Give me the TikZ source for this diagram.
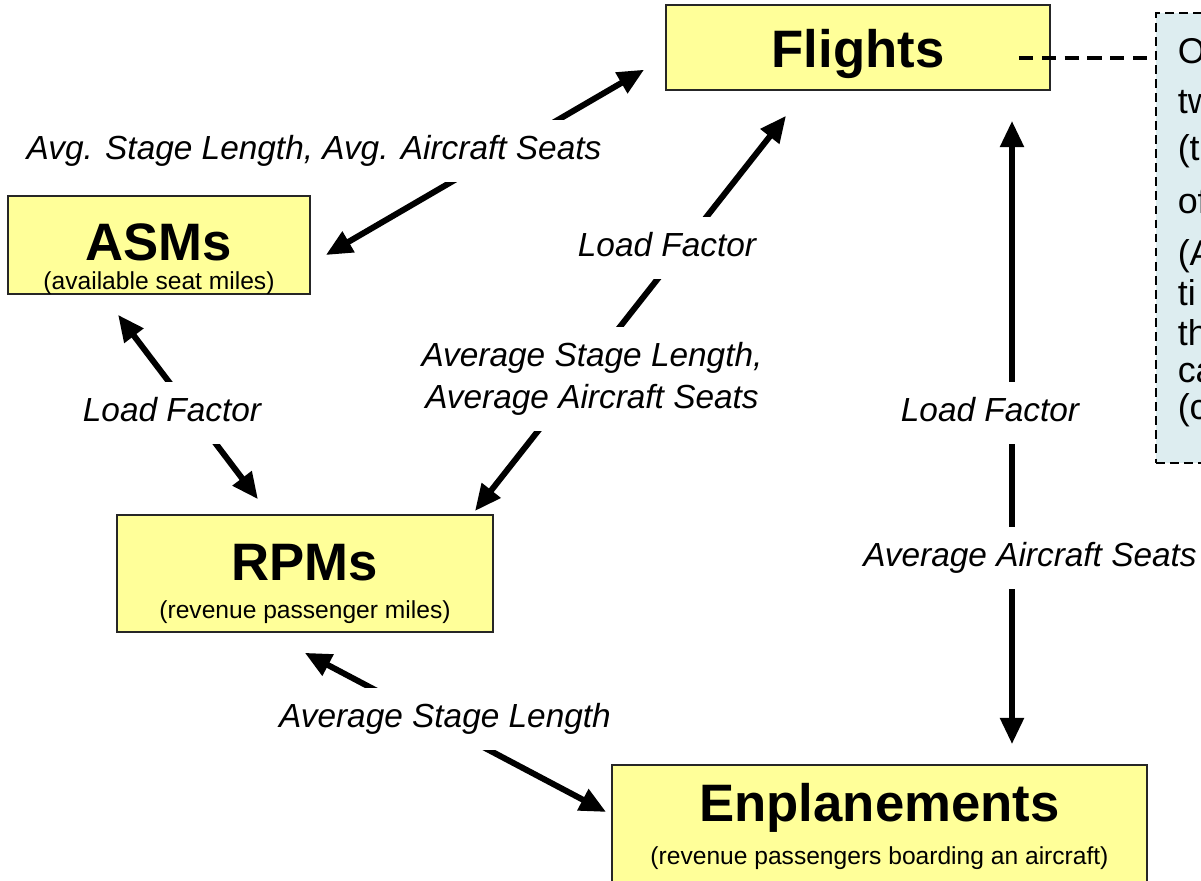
\documentclass[tikz,border=0pt]{standalone}
\usepackage{fontspec}
\setmainfont{Liberation Sans}
\usetikzlibrary{calc}
\usetikzlibrary{arrows.meta,positioning}
\definecolor{boxyellow}{RGB}{255,255,153}
\definecolor{noteblue}{RGB}{221,237,240}
\newcommand{\ttl}[2][0pt]{{\fontsize{30}{30}\selectfont\bfseries\rule{0pt}{#1}#2}}
\newcommand{\subttl}[1]{{\fontsize{14}{17}\selectfont #1}}
\tikzset{
  metric/.style={draw=black!85,line width=1.1pt,fill=boxyellow,align=center,inner sep=0pt},
  link/.style={line width=3.4pt,>={Triangle[length=15pt,width=13pt]},<->},
  lbl/.style={fill=white,inner xsep=3pt,inner ysep=6pt,align=center,
    font=\fontsize{19}{23.8}\selectfont\itshape},
  notebox/.style={draw,line width=0.9pt,dash pattern=on 5pt off 3pt,fill=noteblue,
    minimum height=9cm,text width=9cm,align=left,inner xsep=0.44cm,
    font=\fontsize{20.4}{21}\selectfont},
  noteline/.style={line width=2pt,dash pattern=on 8pt off 5pt}
}

\begin{document}
\begin{tikzpicture}[x=0.02cm,y=-0.02cm]
    \useasboundingbox (0,0) rectangle (1201,880);
    \node[metric,minimum width=7.68cm,minimum height=1.70cm] (flights) at (858,47.5) {\ttl[28.7pt]{Flights}};
    \node[metric,minimum width=6.04cm,minimum height=1.88cm] (asms) at (159,245) {\ttl[37pt]{ASMs}\\[4pt]\subttl{(available seat miles)}};
    \node[metric,minimum width=7.52cm,minimum height=2.34cm] (rpms) at (305,573.5) {\ttl[32.4pt]{RPMs}\\[10pt]\subttl{(revenue passenger miles)}};
    \node[metric,minimum width=10.70cm,minimum height=2.46cm] (enpl) at (879.5,826.5) {\ttl{Enplanements}\\[7pt]\subttl{(revenue passengers boarding an aircraft)}};
    \node[notebox,anchor=north west] (note) at (1155,12) {O\\[7.4pt]tw\\[5.7pt](t\\[9.1pt]of\\[9.1pt](A\\[1.7pt]ti\\[1.7pt]th\\ca\\(c\rule[-10pt]{0pt}{10pt}};

    \coordinate (dashstart) at ($(flights.east)+(-32,10.5)$);
    \draw[noteline] (dashstart) -- (dashstart -| note.west);

    \draw[link,shorten <=9.8pt,shorten >=13.8pt] ($(asms.east)+(0,18.7)$) -- ($(flights.west)+(0,10)$);
    \draw[link,shorten <=2.2pt,shorten >=18pt] ($(rpms.north)+(167.6,0)$) -- ($(flights.south)+(-52.4,0)$);
    \draw[link,shorten <=17pt,shorten >=11.3pt] ($(flights.south)+(154,0)$) -- ($(enpl.north)+(132.5,0)$);
    \draw[link,shorten <=14.1pt,shorten >=10.6pt] ($(asms.south)+(-55.9,0)$) -- ($(rpms.north)+(-35.8,0)$);
    \draw[link,shorten <=24.2pt,shorten >=3.2pt] ($(rpms.south)+(-37.8,0)$) -- ($(enpl.west)+(0,-11.9)$);

    \node[lbl] (lavg) at (314,151) {\strut Avg. Stage Length, Avg. Aircraft Seats};
    \node[lbl] (lloadtop) at (667,248) {\strut Load Factor};
    \node[lbl] (lstage) at (592,379) {\strut Average Stage Length,\\\strut Average Aircraft Seats};
    \node[lbl] (lloadleft) at (172,413) {\strut Load Factor};
    \node[lbl] (lloadright) at (990,413) {\strut Load Factor};
    \node[lbl] (lseats) at (1030,558) {\strut Average Aircraft Seats};
    \node[lbl] (llength) at (445,719) {\strut Average Stage Length};
\end{tikzpicture}
\end{document}
